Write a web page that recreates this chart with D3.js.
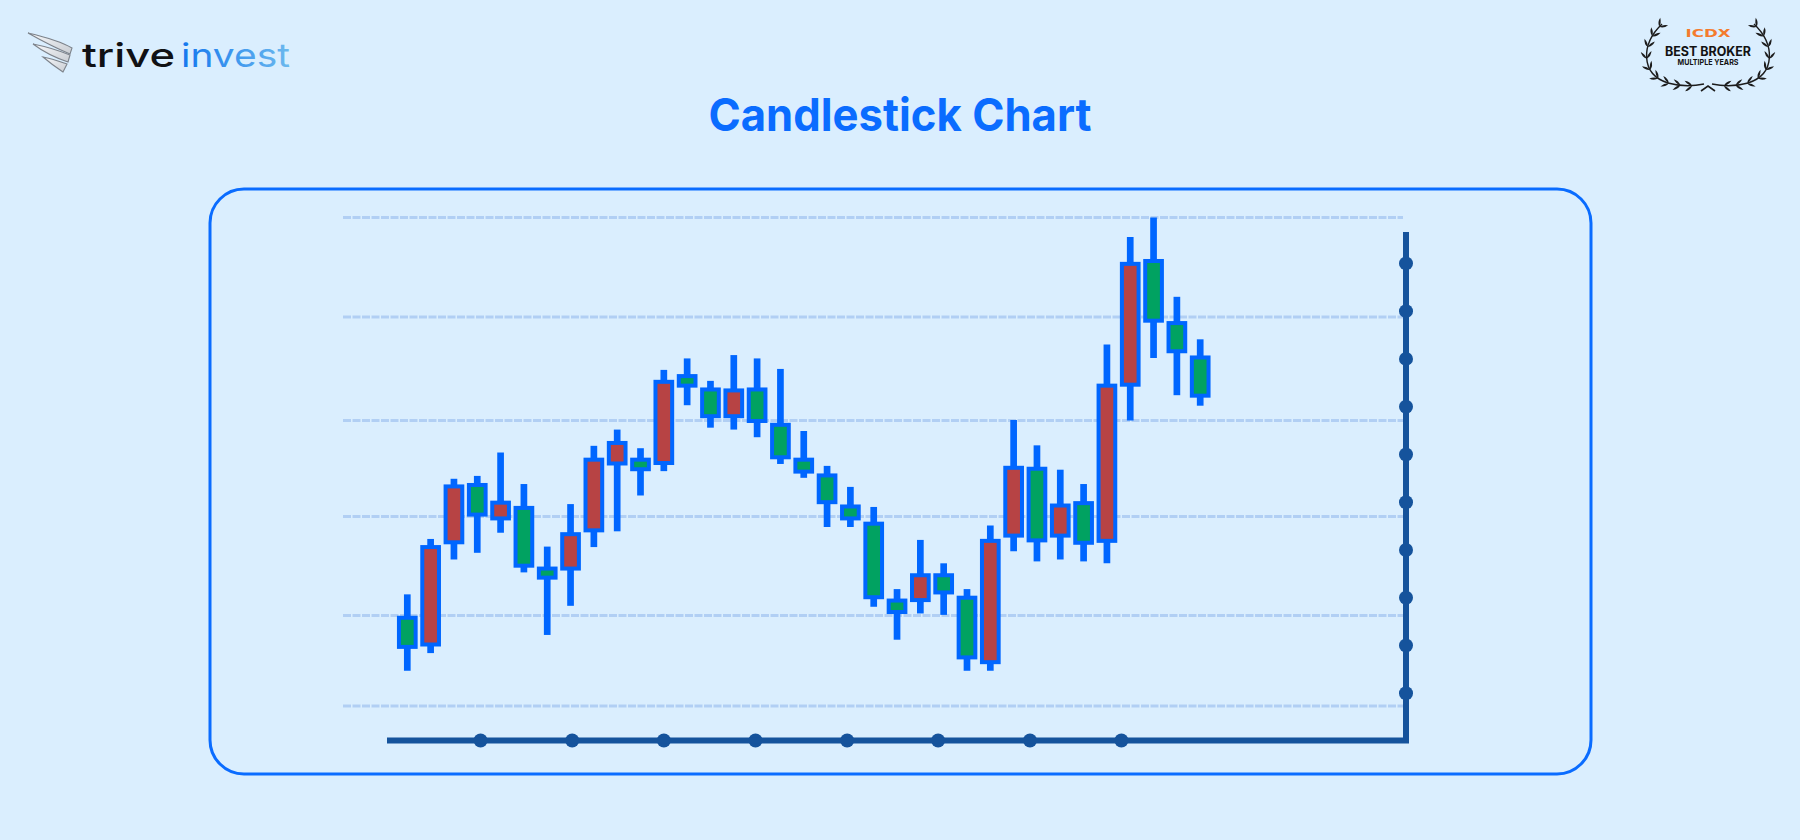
<!DOCTYPE html>
<html>
<head>
<meta charset="utf-8">
<title>Candlestick Chart</title>
<script src="https://cdn.jsdelivr.net/npm/d3@7"></script>
<style>
  html, body { margin: 0; padding: 0; background: #daeefe; }
  #chart { width: 1800px; height: 840px; }
</style>
</head>
<body>
<div id="chart"></div>
<script>
// chart values (one entry per session / candle)
var sessions = [1, 2, 3, 4, 5, 6, 7, 8, 9, 10, 11, 12, 13, 14, 15, 16, 17, 18, 19, 20,
                21, 22, 23, 24, 25, 26, 27, 28, 29, 30, 31, 32, 33, 34, 35];
var openPrices  = [25.7, 20.1, 41.5, 53.5, 46.5, 48.7, 36.0, 36.0, 44.0, 58.0, 58.8, 58.1, 76.3, 73.5, 67.9, 73.5, 66.1, 58.8,
                   55.5, 49.0, 45.4, 29.3, 29.4, 34.6, 29.9, 16.4, 42.9, 56.9, 42.9, 49.7, 41.8, 74.5, 100.4, 87.4, 80.2];
var highPrices  = [30.6, 42.2, 54.8, 55.4, 60.3, 53.7, 40.6, 49.5, 61.7, 65.1, 61.2, 77.6, 80.0, 75.3, 80.7, 80.0, 77.8, 64.8,
                   57.5, 53.1, 48.9, 31.7, 42.0, 37.1, 31.7, 45.0, 67.1, 61.8, 56.7, 53.7, 82.9, 105.4, 109.5, 92.9, 84.0];
var lowPrices   = [14.6, 18.3, 37.9, 39.3, 43.5, 35.2, 22.1, 28.2, 40.5, 43.8, 51.3, 56.4, 70.2, 65.5, 65.1, 63.5, 57.9, 55.0,
                   44.7, 44.7, 28.0, 21.1, 26.6, 26.3, 14.6, 14.6, 39.6, 37.5, 37.9, 37.5, 37.1, 67.0, 80.1, 72.3, 70.1];
var closePrices = [19.6, 40.5, 53.2, 47.3, 49.8, 36.6, 34.1, 43.2, 58.8, 62.3, 56.8, 75.1, 74.3, 67.9, 73.3, 66.9, 59.3, 56.3,
                   49.9, 46.5, 30.0, 26.9, 34.6, 31.0, 17.4, 41.8, 57.1, 41.9, 49.2, 41.4, 74.3, 99.8, 87.9, 81.5, 72.2];
// dashed guide lines (price levels) and the dots on both axes
var gridLevels = [7.2, 26.15, 46.9, 67.0, 88.65, 109.5];
var yTicks = [10, 20, 30, 40, 50, 60, 70, 80, 90, 100];
var xTicks = [4.12, 8.05, 11.98, 15.91, 19.84, 23.74, 27.68, 31.6];

(function () {

  var w = 1800,
    h = 840,
    svg,
    x,
    y,
    candles,
    // page colours
    bg = "#daeefe",
    brandBlue = "#0a6cff",
    candleBlue = "#0066ff",
    axisBlue = "#15539c",
    upRed = "#b74344",
    downGreen = "#01a261",
    gridColor = "#b1cff4";

  function buildCandles() {
    candles = sessions.map(function (s, i) {
      return { session: s, open: openPrices[i], high: highPrices[i], low: lowPrices[i], close: closePrices[i] };
    });
  }

  function makeChart() {
    buildCandles();
    createSvg();
    getScales();
    createHeader();
    createPanel();
    createGrid();
    createAxes();
    createCandles();
  }

  function createSvg() {
    svg = d3.select("#chart")
      .append("svg")
      .attr("width", w)
      .attr("height", h);
    svg.append("rect")
      .attr("width", w)
      .attr("height", h)
      .attr("fill", bg);
  }

  // candles sit one per session along x, prices are linear
  function getScales() {
    x = d3.scaleLinear()
      .domain([1, 35])
      .range([407.3, 1200.2]);
    y = d3.scaleLinear()
      .domain([0, 100])
      .range([740.5, 262.9]);
  }

  // logo on the left, title in the middle, award badge on the right
  function createHeader() {
    var defs = svg.append("defs");
    var grad = defs.append("linearGradient").attr("id", "investGrad");
    grad.append("stop").attr("offset", "0%").attr("stop-color", "#1477ee");
    grad.append("stop").attr("offset", "100%").attr("stop-color", "#6cb9ee");
    var wingGrad = defs.append("linearGradient").attr("id", "wingGrad")
      .attr("x1", "0%").attr("y1", "0%").attr("x2", "100%").attr("y2", "100%");
    wingGrad.append("stop").attr("offset", "0%").attr("stop-color", "#f7f8fa");
    wingGrad.append("stop").attr("offset", "100%").attr("stop-color", "#c9cdd3");

    var logo = svg.append("g").attr("class", "logo");
    // the wing: three stacked feathers
    var feathers = [
      "M28,33 C45,37 62,42 72,48 L70,54 C58,49 44,42 28,33 Z",
      "M33,44 C48,47 60,51 70,55 L68,62 C56,58 45,53 33,44 Z",
      "M43,57 C53,59 61,62 67,64 L63,72 C57,68 50,63 43,57 Z"
    ];
    logo.selectAll(".feather")
      .data(feathers).enter()
      .append("path")
        .attr("class", "feather")
        .attr("d", function (d) { return d; })
        .attr("fill", "url(#wingGrad)")
        .attr("stroke", "#7d838b")
        .attr("stroke-width", 1.1);
    logo.append("text")
      .text("trive")
      .attr("x", 82)
      .attr("y", 67.3)
      .attr("textLength", 93)
      .attr("lengthAdjust", "spacingAndGlyphs")
      .style("font-family", "Inter, 'DejaVu Sans', sans-serif")
      .style("font-weight", 500)
      .style("font-size", "33px")
      .style("fill", "#101114");
    logo.append("text")
      .text("invest")
      .attr("x", 181)
      .attr("y", 67.3)
      .attr("textLength", 109)
      .attr("lengthAdjust", "spacingAndGlyphs")
      .style("font-family", "Inter, 'DejaVu Sans', sans-serif")
      .style("font-weight", 400)
      .style("font-size", "33px")
      .style("fill", "url(#investGrad)");

    svg.append("text")
      .text("Candlestick Chart")
      .attr("x", 900)
      .attr("y", 131)
      .attr("text-anchor", "middle")
      .attr("textLength", 383)
      .attr("lengthAdjust", "spacingAndGlyphs")
      .style("font-family", "Inter, Roboto, sans-serif")
      .style("font-weight", 700)
      .style("font-size", "45px")
      .style("fill", brandBlue);

    createBadge();
  }

  // laurel wreath with the award text
  function createBadge() {
    var badge = svg.append("g").attr("class", "badge");
    var cx = 1708;
    var branchD = "M1662,24 C1641,44 1640,74 1668,83 C1682,87 1695,86 1704,84";
    [1, -1].forEach(function (side) {
      var branch = badge.append("g")
        .attr("transform", side === 1 ? null : "translate(" + (2 * cx) + ",0) scale(-1,1)");
      var stem = branch.append("path")
        .attr("d", branchD)
        .attr("fill", "none")
        .attr("stroke", "#1c1c1c")
        .attr("stroke-width", 1.4);
      var len = stem.node().getTotalLength();
      var leafD = "M0,0 Q4,-3 9,-1 Q4,1.5 0,0 Z";
      for (var k = 0; k < 9; k++) {
        var t = 4 + k * (len - 16) / 8;
        var p = stem.node().getPointAtLength(t);
        var p2 = stem.node().getPointAtLength(Math.max(0, t - 1));
        var ang = Math.atan2(p.y - p2.y, p.x - p2.x) * 180 / Math.PI;
        // one leaf on the outside, one on the inside of the stem
        branch.append("path")
          .attr("d", leafD)
          .attr("transform", "translate(" + p.x + "," + p.y + ") rotate(" + (ang + 150) + ")")
          .attr("fill", "#1c1c1c");
        branch.append("path")
          .attr("d", leafD)
          .attr("transform", "translate(" + p.x + "," + p.y + ") rotate(" + (ang - 150) + ") scale(1,-1)")
          .attr("fill", "#1c1c1c");
      }
    });
    badge.append("path")
      .attr("d", "M1701,91 L1708,86 L1715,91")
      .attr("fill", "none")
      .attr("stroke", "#1c1c1c")
      .attr("stroke-width", 1.6);

    badge.append("text")
      .text("ICDX")
      .attr("x", cx)
      .attr("y", 37.4)
      .attr("text-anchor", "middle")
      .attr("textLength", 45)
      .attr("lengthAdjust", "spacingAndGlyphs")
      .style("font-family", "'DejaVu Sans', sans-serif")
      .style("font-weight", 900)
      .style("font-size", "10.5px")
      .style("fill", "#f47b2d");
    badge.append("text")
      .text("BEST BROKER")
      .attr("x", cx)
      .attr("y", 55.7)
      .attr("text-anchor", "middle")
      .attr("textLength", 86)
      .attr("lengthAdjust", "spacingAndGlyphs")
      .style("font-family", "Inter, 'DejaVu Sans', sans-serif")
      .style("font-weight", 700)
      .style("font-size", "13px")
      .style("fill", "#121212");
    badge.append("text")
      .text("MULTIPLE YEARS")
      .attr("x", cx)
      .attr("y", 65.4)
      .attr("text-anchor", "middle")
      .attr("textLength", 61)
      .attr("lengthAdjust", "spacingAndGlyphs")
      .style("font-family", "Inter, 'DejaVu Sans', sans-serif")
      .style("font-weight", 700)
      .style("font-size", "7.6px")
      .style("fill", "#121212");
  }

  // the rounded frame around the plot
  function createPanel() {
    svg.append("rect")
      .attr("class", "panel")
      .attr("x", 210)
      .attr("y", 189)
      .attr("width", 1381)
      .attr("height", 585)
      .attr("rx", 34)
      .attr("ry", 34)
      .attr("fill", "none")
      .attr("stroke", brandBlue)
      .attr("stroke-width", 3);
  }

  function createGrid() {
    svg.append("g")
      .attr("class", "grid")
      .selectAll("line")
      .data(gridLevels).enter()
      .append("line")
        .attr("x1", 343)
        .attr("x2", 1403)
        .attr("y1", function (d) { return y(d); })
        .attr("y2", function (d) { return y(d); })
        .attr("stroke", gridColor)
        .attr("stroke-width", 3)
        .attr("stroke-dasharray", "8 1.5");
  }

  // axes: thick dark lines, the ticks are drawn as dots
  function createAxes() {
    var xAxisY = y(0);
    var yAxisX = 1406;

    var xAxis = d3.axisBottom(x)
      .tickValues(xTicks)
      .tickSize(0)
      .tickFormat("");
    var gx = svg.append("g")
      .attr("class", "x-axis")
      .attr("transform", "translate(0," + xAxisY + ")")
      .call(xAxis);
    gx.select(".domain").remove();

    var yAxis = d3.axisRight(y)
      .tickValues(yTicks)
      .tickSize(0)
      .tickFormat("");
    var gy = svg.append("g")
      .attr("class", "y-axis")
      .attr("transform", "translate(" + yAxisX + ",0)")
      .call(yAxis);
    gy.select(".domain").remove();

    svg.append("path")
      .attr("d", "M387," + xAxisY + "H" + yAxisX + "V232")
      .attr("fill", "none")
      .attr("stroke", axisBlue)
      .attr("stroke-width", 6)
      .attr("stroke-linejoin", "miter");

    svg.selectAll(".x-axis .tick, .y-axis .tick")
      .append("circle")
        .attr("r", 7)
        .attr("fill", axisBlue);
    svg.selectAll(".x-axis .tick, .y-axis .tick").raise();
  }

  function createCandles() {
    var g = svg.append("g").attr("class", "candles");
    var groups = g.selectAll(".candle")
      .data(candles).enter()
      .append("g")
        .attr("class", "candle");

    // wick first so the body is drawn over it
    groups.append("line")
      .attr("x1", function (d) { return x(d.session); })
      .attr("x2", function (d) { return x(d.session); })
      .attr("y1", function (d) { return y(d.high); })
      .attr("y2", function (d) { return y(d.low); })
      .attr("stroke", candleBlue)
      .attr("stroke-width", 6.7);

    groups.append("rect")
      .attr("x", function (d) { return x(d.session) - 8.35; })
      .attr("width", 16.7)
      .attr("y", function (d) { return y(Math.max(d.open, d.close)); })
      .attr("height", function (d) { return Math.abs(y(d.open) - y(d.close)); })
      .attr("fill", function (d) { return d.close > d.open ? upRed : downGreen; })
      .attr("stroke", candleBlue)
      .attr("stroke-width", 4);
  }

  makeChart();
})();
</script>
</body>
</html>
